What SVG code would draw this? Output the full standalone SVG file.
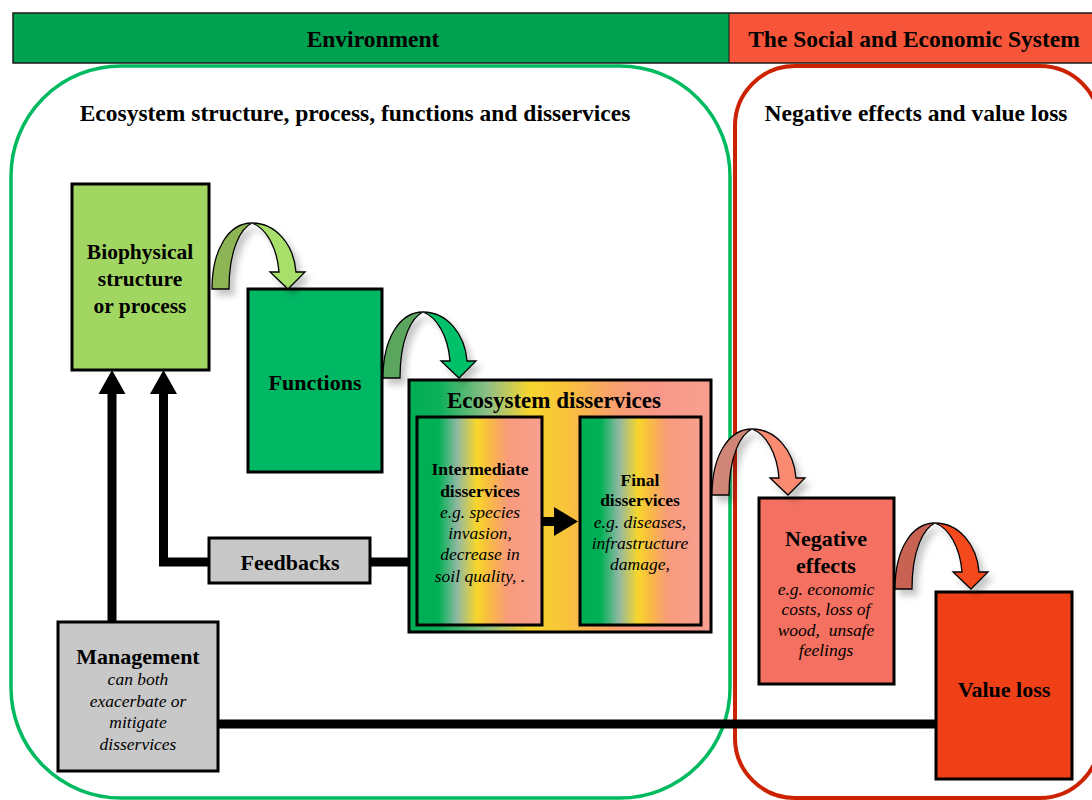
<svg xmlns="http://www.w3.org/2000/svg" width="1092" height="800" viewBox="0 0 1092 800">
<style>
text{font-family:"Liberation Serif","Times New Roman",serif;fill:#000;text-anchor:middle}
.b{font-weight:bold}
.i{font-style:italic;font-size:17.5px}
.hdr{font-weight:bold;font-size:23.5px}
.box{stroke:#000;stroke-width:3}
.cn{stroke:#000;stroke-width:9;fill:none}
.ah{fill:#000}
.ca{stroke:#000;stroke-width:1.3}
</style>
<defs>
<linearGradient id="gOuter" x1="0" y1="0" x2="1" y2="0">
<stop offset="0" stop-color="#00AE55"/>
<stop offset="0.1" stop-color="#0CB05A"/>
<stop offset="0.26" stop-color="#8FBF86"/>
<stop offset="0.4" stop-color="#F7D62E"/>
<stop offset="0.52" stop-color="#F9C33A"/>
<stop offset="0.68" stop-color="#F9A06E"/>
<stop offset="0.82" stop-color="#F8988A"/>
<stop offset="1" stop-color="#F8A090"/>
</linearGradient>
<linearGradient id="gInner" x1="0" y1="0" x2="1" y2="0">
<stop offset="0" stop-color="#00AE55"/>
<stop offset="0.17" stop-color="#00B055"/>
<stop offset="0.32" stop-color="#8FB8A2"/>
<stop offset="0.48" stop-color="#F8D62A"/>
<stop offset="0.59" stop-color="#F9B848"/>
<stop offset="0.73" stop-color="#F89A7C"/>
<stop offset="1" stop-color="#F8A090"/>
</linearGradient>
<filter id="sh" x="-30%" y="-30%" width="160%" height="160%">
<feDropShadow dx="5" dy="6" stdDeviation="3" flood-color="#000" flood-opacity="0.22"/>
</filter>
<path id="back" d="M0,0 C0,-40 17,-66 40,-66 C29,-61 17,-40 17,0 Z"/>
<path id="front" d="M40,-66 C64,-66 82,-44 84,-17 L93,-17 L76,0 L58,-17 L67,-17 C65,-42 54,-61 40,-66 Z"/>
</defs>
<rect width="1092" height="800" fill="#fff"/>

<g id="header">
<rect x="13" y="13" width="716" height="50" fill="#00A151"/>
<rect x="729" y="13" width="365" height="50" fill="#F65539"/>
<rect x="13" y="13" width="1081" height="50" fill="none" stroke="#1a1a1a" stroke-width="1.5"/>
<line x1="729" y1="13" x2="729" y2="63" stroke="#1a1a1a" stroke-width="1"/>
<text class="hdr" x="373" y="47">Environment</text>
<text class="hdr" x="914" y="47">The Social and Economic System</text>
</g>

<g id="env-frame">
<rect x="11" y="66" width="719" height="732" rx="110" ry="110" fill="none" stroke="#00BA60" stroke-width="3.5"/>
<text class="hdr" x="355" y="121">Ecosystem structure, process, functions and disservices</text>
</g>
<g id="soc-frame">
<rect x="735" y="66" width="365" height="732" rx="60" ry="60" fill="none" stroke="#CC2200" stroke-width="4"/>
<text class="hdr" x="916" y="121">Negative effects and value loss</text>
</g>

<g id="connectors">
<polyline class="cn" points="409,562 370,562"/>
<polyline class="cn" points="209,562 163.5,562 163.5,390"/>
<polygon class="ah" points="163.5,370 150,394 177,394"/>
<polyline class="cn" points="112,622 112,390"/>
<polygon class="ah" points="112,370 98.5,394 125.5,394"/>
<polyline class="cn" points="218,724 936,724"/>
</g>

<g id="biophysical">
<rect class="box" x="72" y="184" width="137" height="186" fill="#A2D662"/>
<text class="b" font-size="21.5" x="140" y="259">Biophysical</text>
<text class="b" font-size="21.5" x="140" y="286">structure</text>
<text class="b" font-size="21.5" x="140" y="313">or process</text>
</g>

<g id="functions">
<rect class="box" x="248" y="289" width="134" height="183" fill="#00B864"/>
<text class="b" font-size="22" x="315" y="390">Functions</text>
</g>

<g id="ecosystem-disservices">
<rect class="box" x="409" y="380" width="302" height="252" fill="url(#gOuter)"/>
<text class="b" font-size="23" x="554" y="408">Ecosystem disservices</text>
</g>

<g id="intermediate">
<rect class="box" x="417" y="417" width="125" height="208" fill="url(#gInner)"/>
<text class="b" font-size="17.5" x="480" y="475">Intermediate</text>
<text class="b" font-size="17.5" x="480" y="497">disservices</text>
<text class="i" x="480" y="518">e.g. species</text>
<text class="i" x="480" y="539">invasion,</text>
<text class="i" x="480" y="560">decrease in</text>
<text class="i" x="480" y="582">soil quality, .</text>
</g>

<g id="final">
<rect class="box" x="580" y="417" width="121" height="208" fill="url(#gInner)"/>
<text class="b" font-size="17.5" x="640" y="486">Final</text>
<text class="b" font-size="17.5" x="640" y="506">disservices</text>
<text class="i" x="640" y="528">e.g. diseases,</text>
<text class="i" x="640" y="549">infrastructure</text>
<text class="i" x="640" y="570">damage,</text>
</g>

<g id="inner-arrow">
<rect x="542" y="517" width="13" height="9" fill="#000"/>
<polygon points="554,507 578,521.5 554,536" fill="#000"/>
</g>

<g id="feedbacks">
<rect class="box" x="209" y="538" width="161" height="45" fill="#C8C8C8"/>
<text class="b" font-size="22" x="290" y="570">Feedbacks</text>
</g>

<g id="management">
<rect class="box" x="58" y="622" width="160" height="149" fill="#C8C8C8"/>
<text class="b" font-size="22" x="138" y="664">Management</text>
<text class="i" x="138" y="685">can both</text>
<text class="i" x="138" y="707">exacerbate or</text>
<text class="i" x="138" y="728">mitigate</text>
<text class="i" x="138" y="750">disservices</text>
</g>

<g id="negative-effects">
<rect class="box" x="759" y="498" width="135" height="186" fill="#F47060"/>
<text class="b" font-size="22" x="826" y="546">Negative</text>
<text class="b" font-size="22" x="826" y="573">effects</text>
<text class="i" x="826" y="595">e.g. economic</text>
<text class="i" x="826" y="615">costs, loss of</text>
<text class="i" x="826" y="636" xml:space="preserve">wood,  unsafe</text>
<text class="i" x="826" y="656">feelings</text>
</g>

<g id="value-loss">
<rect class="box" x="936" y="592" width="136" height="187" fill="#F04018"/>
<text class="b" font-size="22" x="1004" y="697">Value loss</text>
</g>

<g id="curved-arrows">
<g transform="translate(212,289)" filter="url(#sh)">
<use href="#back" class="ca" fill="#8DB554"/>
<use href="#front" class="ca" fill="#A8DE6A"/>
</g>
<g transform="translate(383,378)" filter="url(#sh)">
<use href="#back" class="ca" fill="#5BA55E"/>
<use href="#front" class="ca" fill="#00C06A"/>
</g>
<g transform="translate(712,495)" filter="url(#sh)">
<use href="#back" class="ca" fill="#D08676"/>
<use href="#front" class="ca" fill="#FA8A72"/>
</g>
<g transform="translate(895,589)" filter="url(#sh)">
<use href="#back" class="ca" fill="#C86452"/>
<use href="#front" class="ca" fill="#F44A1E"/>
</g>
</g>
</svg>
